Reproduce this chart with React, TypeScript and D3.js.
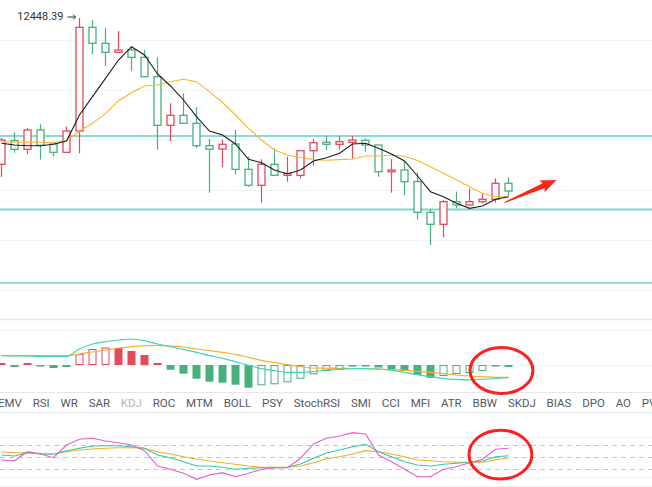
import { useEffect, useRef } from 'react'
import * as d3 from 'd3'

// OHLC, red = up, green = down
const opens = [12126.5, 12178.9, 12159.5, 12202, 12171.2, 12152.9, 12199.8, 12427.9, 12392.7, 12372.9, 12378, 12361.9, 12319.3, 12212.3, 12234.3, 12216.7, 12167.5, 12160.2, 12171.2, 12115.5, 12080.3, 12126.5, 12102.3, 12102.3, 12156.5, 12174.9, 12170.5, 12174.9, 12179.3, 12169, 12110.3, 12114, 12088.7, 12020.9, 11994.5, 12044.3, 12037, 12044.3, 12049.5, 12084.7]
const highs = [12184.4, 12196.5, 12206.4, 12214.5, 12175.6, 12209.3, 12448.39, 12444, 12426.4, 12419.8, 12385.3, 12378, 12361.9, 12260.7, 12282.7, 12251.9, 12182.2, 12181.1, 12202, 12143.3, 12137.5, 12161.7, 12143.3, 12158, 12182.2, 12188.8, 12188.8, 12188.8, 12183.7, 12169, 12137.5, 12132.3, 12108.5, 12027.5, 12048, 12066.3, 12073.7, 12061.2, 12095.7, 12097.9]
const lows = [12098.6, 12151.8, 12148.8, 12137.1, 12143.3, 12151.4, 12150.7, 12368.5, 12342.8, 12371.4, 12332.5, 12318.6, 12158.7, 12177.8, 12215.2, 12161.7, 12064.1, 12119.9, 12104.5, 12077.3, 12042.1, 12100.8, 12088.3, 12095.7, 12123.5, 12158, 12159.5, 12139.7, 12154.3, 12099.3, 12064.1, 12059, 12005.1, 11949, 11965.9, 12029.7, 12034.8, 12040.7, 12042.1, 12056.8]
const closes = [12180, 12159.5, 12202, 12168.3, 12152.9, 12199.8, 12427.9, 12392.7, 12372.9, 12378, 12361.9, 12319.3, 12212.3, 12234.3, 12216.7, 12167.5, 12159.8, 12170.5, 12115.5, 12080.3, 12126.5, 12102.3, 12106.7, 12156.5, 12174.1, 12170.5, 12176.3, 12180, 12169, 12110.3, 12114, 12088.3, 12020.9, 11994.5, 12044.3, 12037, 12044.3, 12049.5, 12084.7, 12067.8]

const ma5 = [12172.7, 12169, 12167.5, 12167.5, 12170.5, 12177.8, 12235, 12275.3, 12315.7, 12356, 12385.3, 12367, 12325.2, 12298.8, 12268, 12231.3, 12199.8, 12191, 12171.2, 12137.5, 12130.1, 12114, 12105.2, 12114, 12133.8, 12141.1, 12150.7, 12171.2, 12172.7, 12161.7, 12149.2, 12133.8, 12100.8, 12066.3, 12055.3, 12040.7, 12029.7, 12034.8, 12049.5, 12055.3]
const ma10 = [12176.3, 12174.9, 12174.9, 12174.9, 12174.1, 12178.5, 12199.8, 12216.7, 12238.7, 12266.5, 12284.1, 12298.8, 12301, 12308.3, 12313.5, 12308.3, 12286.3, 12262.5, 12235, 12205.7, 12180, 12158, 12147, 12141.5, 12136.9, 12135.3, 12136.9, 12138.2, 12144.8, 12144.8, 12147, 12144.1, 12134.9, 12121.3, 12106.7, 12092, 12077.3, 12062.7, 12055.3, 12055.3]

const gridPrices = [12400, 12290, 12180, 12070, 11960, 11850]
const levelPrices = [12188.8, 12027.1, 11865.4]

// MACD
const macdDif = [9.5, 9, 9.2, 8.7, 8.5, 8.7, 16, 21, 23.3, 25, 26, 24.3, 21, 18.3, 15.7, 12.7, 9.3, 6.7, 3.3, -0.3, -3.7, -5.7, -7.3, -7.3, -6.7, -4.8, -4.2, -3.7, -3.5, -4, -5.2, -7.3, -9.7, -11.9, -13.3, -14.4, -14.9, -14.4, -13.5, -12.3]
const macdDea = [9.3, 9.3, 9.3, 9.3, 9.3, 9.3, 11, 13, 15, 17, 18.3, 19.3, 19.7, 19, 18, 16, 14.3, 12.7, 10.7, 7.7, 4.7, 2.3, 0.3, -1.7, -3, -3.1, -3.3, -3.5, -3.8, -4.1, -4.7, -5.4, -6.3, -7.4, -8.7, -10, -11, -11.8, -12.3, -12.3]
const macdHist = [2, -2, 2, -1.5, -3, -2, 11, 16, 17.5, 17, 14, 10, 2, -4.7, -8.7, -13.7, -16.7, -17.7, -19.7, -22.7, -20.3, -19.3, -17.3, -13.7, -9.3, -6, -5, -1.5, -1, -2.5, -4, -6, -10, -13, -11, -9, -8, -6, -1.5, -2]
const macdGrid = [35, 0]

const tabLabels = ['EMV', 'RSI', 'WR', 'SAR', 'KDJ', 'ROC', 'MTM', 'BOLL', 'PSY', 'StochRSI', 'SMI', 'CCI', 'MFI', 'ATR', 'BBW', 'SKDJ', 'BIAS', 'DPO', 'AO', 'PVT']
const activeTab = 'KDJ'

// KDJ
const kdjK = [55, 52.5, 60.8, 57.5, 56.8, 65.8, 71.8, 77.5, 78.3, 78.3, 75.8, 71.8, 55, 48.3, 38.3, 27.5, 27.5, 24.3, 19.3, 21.8, 23.3, 23.3, 24.3, 32.5, 46.8, 60, 67.5, 75.8, 81.8, 63.3, 50.8, 38.3, 30, 27.5, 31.8, 34.3, 36.8, 40, 50.8, 53.3]
const kdjD = [63.3, 60.8, 60.8, 59.3, 57.5, 63.3, 67.5, 70, 71.8, 73.3, 73.3, 71.8, 63.3, 57.5, 50.8, 45, 40, 35.8, 31.8, 27.5, 24.3, 24.3, 24.3, 27.5, 35.8, 45.5, 50.8, 57.5, 65.8, 63.3, 57.5, 50.8, 42.5, 40.8, 38.3, 36.8, 36.8, 36.8, 42.5, 48.3]
const kdjJ = [42.5, 40.8, 63.3, 57.5, 48.3, 80, 94.3, 96.8, 90, 85.8, 80, 65.8, 27.5, 19.3, 9.3, -5.8, 5, 10.8, 0.8, 9.3, 19.3, 23.3, 23.3, 46.8, 82.5, 96.8, 102.5, 110.8, 107.5, 55, 38.3, 19.3, 0.8, 0.8, 19.3, 25.8, 35.8, 44.3, 69.3, 71.8]
const kdjDashed = [80, 50, 20]
const kdjSolid = [100, 0]

// hand drawn marks (in data units)
const arrowFrom = { i: 38.7, p: 12042.5 }
const arrowTo = { i: 42.7, p: 12092 }
const macdCircle = { i: 38.46, v: -5.5, di: 2.42, dv: 23 }
const kdjCircle = { i: 38.38, v: 56, di: 2.42, dv: 61 }

const UP = '#e34a5b'
const DOWN = '#47b07c'

export default function App() {
  const ref = useRef<SVGSVGElement>(null)

  useEffect(() => {
    const svg = d3.select(ref.current)
    svg.selectAll('*').remove()
    const W = 652
    const n = closes.length

    const x = d3.scaleLinear().domain([0, n - 1]).range([1.5, 508.5])
    const y = d3.scaleLinear().domain([11960, 12400]).range([240, 40])
    const ym = d3.scaleLinear().domain([-25, 25]).range([390, 340])
    const yk = d3.scaleLinear().domain([0, 100]).range([477, 437])
    const idx = d3.range(n)

    const hline = (yy: number, color: string, w = 1, dash?: string) => {
      const l = svg.append('line')
        .attr('x1', 0).attr('x2', W)
        .attr('y1', yy).attr('y2', yy)
        .attr('stroke', color).attr('stroke-width', w)
      if (dash) l.attr('stroke-dasharray', dash)
    }

    // main grid
    gridPrices.forEach(p => hline(Math.round(y(p)) + 0.5, '#f0f1f3'))

    // drawn level lines
    hline(y(levelPrices[0]), '#19b8a9', 1.2)
    hline(y(levelPrices[1]), '#7fd8d1', 2)
    hline(y(levelPrices[2]), '#3db4ab', 1.1)

    // candles
    const g = svg.append('g')
    idx.forEach(i => {
      const up = closes[i] >= opens[i]
      const c = up ? UP : DOWN
      const top = y(Math.max(opens[i], closes[i]))
      const bot = y(Math.min(opens[i], closes[i]))
      g.append('line')
        .attr('x1', x(i)).attr('x2', x(i))
        .attr('y1', y(highs[i])).attr('y2', y(lows[i]))
        .attr('stroke', c).attr('stroke-width', 1.2)
      g.append('rect')
        .attr('x', x(i) - 3.5).attr('width', 7)
        .attr('y', top).attr('height', Math.max(bot - top, 1))
        .attr('fill', '#fff')
        .attr('stroke', c).attr('stroke-width', 1.3)
    })

    const lineMain = (vals: number[]) => d3.line<number>().x((_, i) => x(i)).y(v => y(v))(vals)
    svg.append('path').attr('d', lineMain(ma10)).attr('fill', 'none')
      .attr('stroke', '#f9b52a').attr('stroke-width', 1.1)
    svg.append('path').attr('d', lineMain(ma5)).attr('fill', 'none')
      .attr('stroke', '#1c1c1c').attr('stroke-width', 1.1)

    // max label
    const hi = d3.maxIndex(highs)
    const ly = y(highs[hi]) - 1
    svg.append('text')
      .attr('x', x(hi) - 16).attr('y', ly)
      .attr('text-anchor', 'end').attr('dominant-baseline', 'middle')
      .attr('font-family', 'Roboto, sans-serif').attr('font-size', 11)
      .attr('fill', '#333').text(highs[hi].toFixed(2))
    svg.append('path')
      .attr('d', `M${x(hi) - 12},${ly}H${x(hi) - 4}M${x(hi) - 6.5},${ly - 2.5}L${x(hi) - 4},${ly}L${x(hi) - 6.5},${ly + 2.5}`)
      .attr('fill', 'none').attr('stroke', '#333').attr('stroke-width', 1)

    // red arrow
    {
      const x0 = x(arrowFrom.i), y0 = y(arrowFrom.p)
      const x1 = x(arrowTo.i), y1 = y(arrowTo.p)
      const len = Math.hypot(x1 - x0, y1 - y0)
      const ux = (x1 - x0) / len, uy = (y1 - y0) / len
      const nx = -uy, ny = ux
      const hl = 14, hw = 6.5
      const bx = x1 - ux * hl, by = y1 - uy * hl
      const pts: [number, number][] = [
        [x0 + nx * 0.6, y0 + ny * 0.6],
        [bx + nx * 2.6, by + ny * 2.6],
        [bx - ux * 2 + nx * hw, by - uy * 2 + ny * hw],
        [x1, y1],
        [bx - ux * 2 - nx * hw, by - uy * 2 - ny * hw],
        [bx - nx * 2.6, by - ny * 2.6],
        [x0 - nx * 0.6, y0 - ny * 0.6],
      ]
      svg.append('path').attr('d', 'M' + pts.map(p => p.join(',')).join('L') + 'Z')
        .attr('fill', '#ff2418')
    }

    // MACD panel
    hline(319.5, '#e4e5e8', 1.5)
    macdGrid.forEach(v => hline(Math.round(ym(v)) + 0.5, '#f0f1f3'))
    idx.forEach(i => {
      const v = macdHist[i]
      const c = v >= 0 ? UP : DOWN
      const hollow = i > 0 && v > macdHist[i - 1]
      const y0 = ym(Math.max(v, 0)), y1 = ym(Math.min(v, 0))
      const h = Math.max(y1 - y0, 1.5)
      if (hollow && h > 2.5) {
        svg.append('rect').attr('x', x(i) - 3.5).attr('width', 7)
          .attr('y', y0 + 0.5).attr('height', h - 1)
          .attr('fill', 'none').attr('stroke', c).attr('stroke-width', 1)
      } else {
        svg.append('rect').attr('x', x(i) - 4).attr('width', 8)
          .attr('y', y0).attr('height', h).attr('fill', c)
      }
    })
    const lineM = (vals: number[]) => d3.line<number>().x((_, i) => x(i)).y(v => ym(v)).curve(d3.curveMonotoneX)(vals)
    svg.append('path').attr('d', lineM(macdDea)).attr('fill', 'none')
      .attr('stroke', '#f7b02a').attr('stroke-width', 1.2)
    svg.append('path').attr('d', lineM(macdDif)).attr('fill', 'none')
      .attr('stroke', '#44d4b8').attr('stroke-width', 1.2)

    // tabs
    hline(392.5, '#e6e7ea')
    hline(412.5, '#e6e7ea')
    let tx = -2
    tabLabels.forEach(t => {
      const el = svg.append('text')
        .attr('x', tx).attr('y', 407)
        .attr('font-family', 'Roboto, sans-serif').attr('font-size', 11.5)
        .attr('fill', t === activeTab ? '#b3b5b9' : '#55585d')
        .text(t)
      const w = (el.node() as SVGTextElement).getComputedTextLength()
      tx += w + 10.8
    })

    // KDJ panel
    kdjSolid.forEach(v => hline(Math.round(yk(v)) + 0.5, '#eff0f2'))
    kdjDashed.forEach(v => hline(Math.round(yk(v)) + 0.5, '#c4c6ca', 1, '5,4'))
    hline(486.5, '#eff0f2')
    const lineK = (vals: number[]) => d3.line<number>().x((_, i) => x(i)).y(v => yk(v))(vals)
    svg.append('path').attr('d', lineK(kdjD)).attr('fill', 'none')
      .attr('stroke', '#f6ad1f').attr('stroke-width', 1.1)
    svg.append('path').attr('d', lineK(kdjK)).attr('fill', 'none')
      .attr('stroke', '#2fcaa6').attr('stroke-width', 1.1)
    svg.append('path').attr('d', lineK(kdjJ)).attr('fill', 'none')
      .attr('stroke', '#e35ed0').attr('stroke-width', 1.1)

    // red circles
    svg.append('ellipse')
      .attr('cx', x(macdCircle.i)).attr('cy', ym(macdCircle.v))
      .attr('rx', x(macdCircle.i + macdCircle.di) - x(macdCircle.i))
      .attr('ry', ym(0) - ym(macdCircle.dv))
      .attr('fill', 'none').attr('stroke', '#ff1f1f').attr('stroke-width', 3)
    svg.append('ellipse')
      .attr('cx', x(kdjCircle.i)).attr('cy', yk(kdjCircle.v))
      .attr('rx', x(kdjCircle.i + kdjCircle.di) - x(kdjCircle.i))
      .attr('ry', yk(0) - yk(kdjCircle.dv))
      .attr('fill', 'none').attr('stroke', '#ff1f1f').attr('stroke-width', 3)
  }, [])

  return (
    <>
      <style>{'body{margin:0;background:#fff}'}</style>
      <svg ref={ref} width={652} height={487} style={{ display: 'block', background: '#fff' }} />
    </>
  )
}
